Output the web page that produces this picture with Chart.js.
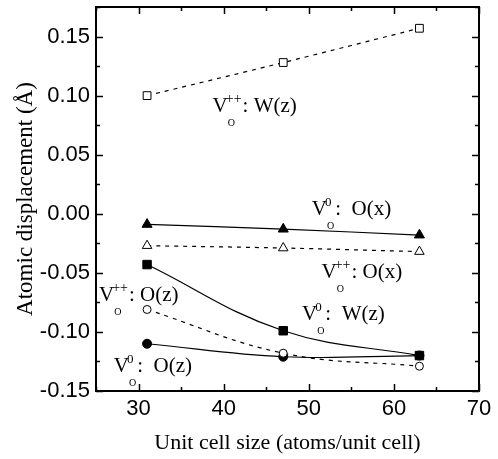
<!DOCTYPE html>
<html>
<head>
<meta charset="utf-8">
<script src="https://cdn.jsdelivr.net/npm/chart.js@4.4.1/dist/chart.umd.min.js"></script>
<style>
  html, body { margin: 0; padding: 0; background: #fff; }
  #wrap { width: 498px; height: 459px; position: relative; }
</style>
</head>
<body>
<div id="wrap"><canvas id="chart" width="498" height="459"></canvas></div>
<script>
// unit cell sizes (atoms/unit cell)
const cellSizes = [31, 47, 63];

// atomic displacements (Å)
const vppWz = [0.100, 0.128, 0.157];    // V_O++ : W(z)  open squares
const v0Ox = [-0.009, -0.013, -0.018];  // V_O0  : O(x)  filled triangles
const vppOx = [-0.027, -0.029, -0.032]; // V_O++ : O(x)  open triangles
const v0Wz = [-0.043, -0.099, -0.120];  // V_O0  : W(z)  filled squares
const vppOz = [-0.081, -0.118, -0.129]; // V_O++ : O(z)  open circles
const v0Oz = [-0.110, -0.121, -0.120];  // V_O0  : O(z)  filled circles

const xTickLabels = [30, 40, 50, 60, 70];
const yTickLabels = [-0.15, -0.10, -0.05, 0.00, 0.05, 0.10, 0.15];

// text labels in the plot: [x, y, superscript, rest]
const notes = [
  [38.7, 0.086, '++', ': W(z)'],
  [50.35, -0.001, '0', ':  O(x)'],
  [51.5, -0.054, '++', ': O(x)'],
  [25.35, -0.074, '++', ': O(z)'],
  [49.2, -0.0895, '0', ':  W(z)'],
  [27.1, -0.134, '0', ':  O(z)']
];

const serif = '"Liberation Serif", "Times New Roman", serif';
const sans = '"Liberation Sans", Arial, sans-serif';

function pts(ys) {
  return cellSizes.map((x, i) => ({ x: x, y: ys[i] }));
}

function series(ys, style, filled, dashed, radius) {
  return {
    data: pts(ys),
    borderColor: '#000',
    backgroundColor: filled ? '#000' : '#fff',
    pointStyle: style,
    pointRadius: radius,
    pointBorderWidth: 1,
    pointBorderColor: '#000',
    pointBackgroundColor: filled ? '#000' : '#fff',
    borderWidth: 1.2,
    borderDash: dashed ? [4, 5] : [],
    tension: 0.4,
    fill: false
  };
}

const frame = {
  id: 'frame',
  afterDatasetsDraw(chart) {
    const { ctx, chartArea: a, scales } = chart;
    const xs = scales.x, ys = scales.y;
    ctx.save();
    ctx.strokeStyle = '#000';
    ctx.lineWidth = 1.5;
    ctx.beginPath();
    for (let v = 25; v <= 70; v += 5) {
      const px = Math.round(xs.getPixelForValue(v)) + 0.5;
      const len = v % 10 === 0 ? 7 : 4;
      ctx.moveTo(px, a.bottom); ctx.lineTo(px, a.bottom - len);
      ctx.moveTo(px, a.top); ctx.lineTo(px, a.top + len);
    }
    for (let k = -6; k <= 7; k++) {
      const py = Math.round(ys.getPixelForValue(k * 0.025)) + 0.5;
      const len = k % 2 === 0 ? 7 : 4;
      ctx.moveTo(a.left, py); ctx.lineTo(a.left + len, py);
      ctx.moveTo(a.right, py); ctx.lineTo(a.right - len, py);
    }
    ctx.stroke();
    ctx.lineWidth = 2;
    ctx.strokeRect(a.left, a.top, a.right - a.left, a.bottom - a.top);

    ctx.fillStyle = '#000';
    ctx.textBaseline = 'alphabetic';
    ctx.textAlign = 'left';
    notes.forEach(([vx, vy, sup, rest]) => {
      let x = xs.getPixelForValue(vx);
      const y = ys.getPixelForValue(vy);
      ctx.font = '21px ' + serif;
      ctx.fillText('V', x, y);
      const vw = ctx.measureText('V').width;
      ctx.font = (sup === '0' ? '13px ' : '14px ') + serif;
      ctx.fillText(sup, x + vw - 2, y - 9);
      const sw = ctx.measureText(sup).width;
      ctx.font = '10px ' + serif;
      ctx.fillText('O', x + vw, y + 14);
      const ow = ctx.measureText('O').width;
      const nx = x + vw + Math.max(sw - 2, ow) + 1;
      ctx.font = '21px ' + serif;
      ctx.fillText(rest, nx, y);
    });
    ctx.restore();
  }
};

new Chart(document.getElementById('chart'), {
  type: 'line',
  data: {
    datasets: [
      series(vppWz, 'rect', false, true, 5.5),
      series(v0Ox, 'triangle', true, false, 5.8),
      series(vppOx, 'triangle', false, true, 5.5),
      series(v0Wz, 'rect', true, false, 6),
      series(vppOz, 'circle', false, true, 4),
      series(v0Oz, 'circle', true, false, 4.5)
    ]
  },
  options: {
    responsive: false,
    animation: false,
    layout: { padding: { top: 5, right: 19, left: 0, bottom: 0 } },
    plugins: { legend: { display: false }, tooltip: { enabled: false } },
    scales: {
      x: {
        type: 'linear',
        min: 25,
        max: 70,
        afterBuildTicks: s => { s.ticks = xTickLabels.map(v => ({ value: v })); },
        afterFit: s => { s.height = 68; s.paddingLeft = 0; s.paddingRight = 0; },
        grid: { display: false, drawTicks: false },
        border: { display: false },
        ticks: { color: '#000', padding: 5, font: { family: sans, size: 22 } },
        title: {
          display: true,
          text: 'Unit cell size (atoms/unit cell)',
          color: '#000',
          font: { family: serif, size: 22 },
          padding: { top: 0, bottom: 3 }
        }
      },
      y: {
        type: 'linear',
        min: -0.15,
        max: 0.175,
        afterBuildTicks: s => { s.ticks = yTickLabels.map(v => ({ value: v })); },
        afterFit: s => { s.width = 96; s.paddingTop = 0; s.paddingBottom = 0; },
        grid: { display: false, drawTicks: false },
        border: { display: false },
        ticks: {
          color: '#000',
          padding: 6,
          font: { family: sans, size: 22 },
          callback: v => v.toFixed(2)
        },
        title: {
          display: true,
          text: 'Atomic displacement (Å)',
          color: '#000',
          font: { family: serif, size: 23 },
          padding: { top: 12, bottom: 0 }
        }
      }
    }
  },
  plugins: [frame]
});
</script>
</body>
</html>
